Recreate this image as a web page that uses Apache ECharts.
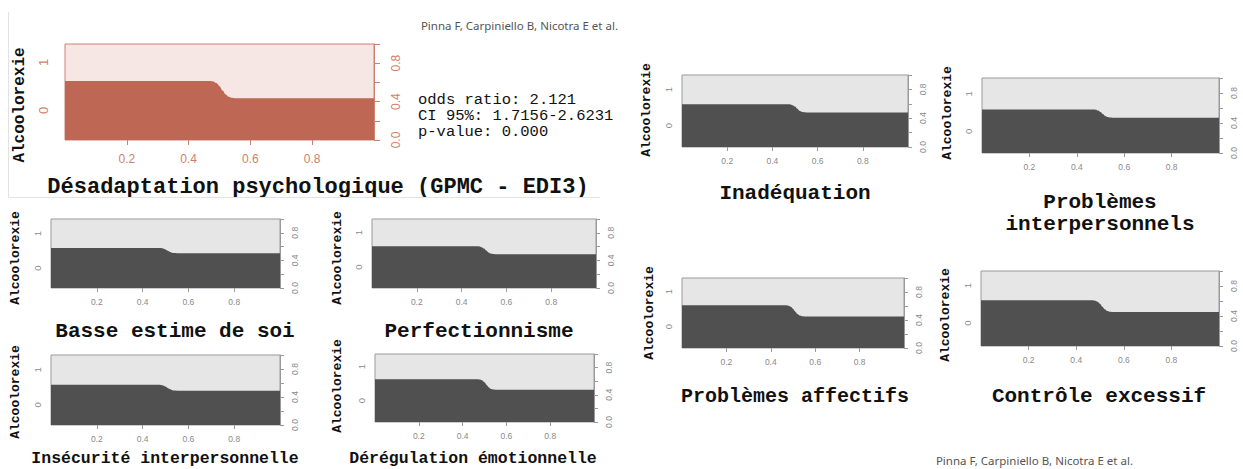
<!DOCTYPE html>
<html><head><meta charset="utf-8">
<script src="https://cdn.jsdelivr.net/npm/echarts@6/dist/echarts.min.js"></script>
<style>html,body{margin:0;padding:0;background:#fff}#c{width:1243px;height:469px}</style>
</head><body><div id="c"></div>
<script>
// x positions of the conditional-density boundary (shared by all panels)
const xValues = [0, 0.47, 0.48, 0.49, 0.50, 0.51, 0.52, 0.53, 0.54, 0.55, 1];
// P(Alcoolorexie = 0 | x)
const desadaptation   = [0.615, 0.615, 0.610, 0.593, 0.561, 0.516, 0.475, 0.450, 0.439, 0.435, 0.435];
const basseEstime     = [0.580, 0.580, 0.578, 0.571, 0.558, 0.539, 0.522, 0.511, 0.506, 0.505, 0.505];
const perfectionnisme = [0.605, 0.605, 0.602, 0.591, 0.571, 0.542, 0.515, 0.499, 0.492, 0.490, 0.490];
const insecurite      = [0.575, 0.575, 0.572, 0.565, 0.550, 0.528, 0.509, 0.498, 0.492, 0.490, 0.490];
const deregulation    = [0.630, 0.630, 0.625, 0.611, 0.584, 0.545, 0.509, 0.487, 0.478, 0.475, 0.475];
const inadequation    = [0.595, 0.595, 0.592, 0.581, 0.561, 0.532, 0.505, 0.489, 0.482, 0.480, 0.480];
const problemesInter  = [0.580, 0.580, 0.577, 0.567, 0.547, 0.520, 0.494, 0.479, 0.472, 0.470, 0.470];
const problemesAff    = [0.610, 0.610, 0.605, 0.591, 0.562, 0.522, 0.485, 0.463, 0.453, 0.450, 0.450];
const controle        = [0.610, 0.610, 0.605, 0.591, 0.564, 0.525, 0.489, 0.467, 0.458, 0.455, 0.455];

const xTickLabels = [0.2, 0.4, 0.6, 0.8];
const rightTicks = [0, 0.2, 0.4, 0.6, 0.8, 1];
const rightTickLabels = [0, 0.4, 0.8];
const classLabels = ['0', '1'];
const yName = 'Alcoolorexie';
const oddsText = ['odds ratio: 2.121', 'CI 95%: 1.7156-2.6231', 'p-value: 0.000'];
const citation = 'Pinna F, Carpiniello B, Nicotra E et al.';

const MONO = '"Nimbus Mono PS","Courier New","FreeMono","Liberation Mono",monospace';

const panels = [
  {v: desadaptation, t: ['Désadaptation psychologique (GPMC - EDI3)'], box: [65, 44, 309, 96], tx: 318, ty: 187, tf: 22, nx: 20, ny: 105, nf: 16, main: true},
  {v: basseEstime, t: ['Basse estime de soi'], box: [51, 219, 229, 69], tx: 175, ty: 331, tf: 21, nx: 15, ny: 258, nf: 13},
  {v: perfectionnisme, t: ['Perfectionnisme'], box: [372, 219, 224, 69], tx: 479, ty: 331, tf: 21, nx: 337, ny: 258, nf: 13},
  {v: insecurite, t: ['Insécurité interpersonnelle'], box: [51, 355, 229, 70], tx: 165, ty: 458, tf: 16.5, nx: 15, ny: 392, nf: 13},
  {v: deregulation, t: ['Dérégulation émotionnelle'], box: [375, 354, 219, 68], tx: 473, ty: 458, tf: 16.5, nx: 337, ny: 386, nf: 13},
  {v: inadequation, t: ['Inadéquation'], box: [682, 75, 226, 72], tx: 795, ty: 193, tf: 21, nx: 646, ny: 110, nf: 13},
  {v: problemesInter, t: ['Problèmes', 'interpersonnels'], box: [982, 78, 237, 75], tx: 1100, ty: 202, tf: 21, nx: 947, ny: 113, nf: 13},
  {v: problemesAff, t: ['Problèmes affectifs'], box: [682, 278, 222, 70], tx: 795, ty: 396, tf: 20, nx: 649, ny: 313, nf: 13},
  {v: controle, t: ['Contrôle excessif'], box: [981, 271, 238, 75], tx: 1099, ty: 396, tf: 21, nx: 945, ny: 315, nf: 13}
];

const grid = [], xAxis = [], yAxis = [], series = [], graphic = [];
panels.forEach((p, i) => {
  const m = !!p.main;
  const dark = m ? '#bd6754' : '#505050';
  const light = m ? '#f7e7e4' : '#e6e6e6';
  const line = m ? '#cf8272' : '#9a9a9a';
  const lab = m ? '#d27e6d' : '#8a8a8a';
  const fs = m ? 12 : 8.5;
  const p0 = p.v[0];
  grid.push({left: p.box[0], top: p.box[1], width: p.box[2], height: p.box[3], show: true,
    backgroundColor: light, borderColor: line, borderWidth: 1, containLabel: false});
  xAxis.push({type: 'value', gridIndex: i, min: 0, max: 1, interval: 0.2,
    axisLine: {show: false}, splitLine: {show: false},
    axisTick: {show: true, customValues: xTickLabels, length: m ? 5 : 4, lineStyle: {color: line}},
    axisLabel: {customValues: xTickLabels, color: lab, fontSize: fs, fontFamily: 'Liberation Sans', margin: m ? 13 : 9,
      formatter: v => v.toFixed(1)}});
  yAxis.push({type: 'value', gridIndex: i, min: 0, max: 1, position: 'left',
    axisLine: {show: false}, axisTick: {show: false}, splitLine: {show: false},
    axisLabel: {customValues: [p0 / 2, (1 + p0) / 2], rotate: 90, color: lab, fontSize: fs + 1,
      fontFamily: 'Liberation Sans', margin: m ? 15 : 9,
      formatter: v => (v < p0 ? classLabels[0] : classLabels[1])}});
  yAxis.push({type: 'value', gridIndex: i, min: 0, max: 1, interval: 0.2, position: 'right',
    axisLine: {show: true, lineStyle: {color: line}}, splitLine: {show: false},
    axisTick: {show: true, customValues: rightTicks, length: m ? 6 : 4, lineStyle: {color: line}},
    axisLabel: {customValues: rightTickLabels, rotate: 90, color: lab, fontSize: fs,
      fontFamily: 'Liberation Sans', margin: m ? 16 : 10, formatter: v => v.toFixed(1)}});
  series.push({type: 'line', xAxisIndex: i, yAxisIndex: 2 * i, showSymbol: false, smooth: 0.35,
    smoothMonotone: 'x', silent: true, lineStyle: {width: 0}, areaStyle: {color: dark, opacity: 1},
    data: xValues.map((x, k) => [x, p.v[k]])});
  p.t.forEach((txt, k) => graphic.push({type: 'text', x: p.tx, y: p.ty + k * 22,
    style: {text: txt, font: 'bold ' + p.tf + 'px ' + MONO, fill: '#111', align: 'center', verticalAlign: 'middle'}}));
  graphic.push({type: 'text', x: p.nx, y: p.ny, rotation: Math.PI / 2,
    style: {text: yName, font: 'bold ' + p.nf + 'px ' + MONO, fill: '#111', align: 'center', verticalAlign: 'middle'}});
});
oddsText.forEach((t, k) => graphic.push({type: 'text', x: 418, y: 100 + k * 16,
  style: {text: t, font: '15.5px ' + MONO, fill: '#111', align: 'left', verticalAlign: 'middle'}}));
graphic.push({type: 'text', x: 618, y: 25, style: {text: citation, font: '11.5px "Noto Sans"', fill: '#555', align: 'right', verticalAlign: 'middle'}});
graphic.push({type: 'text', x: 1133, y: 460, style: {text: citation, font: '11.5px "Noto Sans"', fill: '#555', align: 'right', verticalAlign: 'middle'}});
graphic.push({type: 'polyline', shape: {points: [[8.5, 12], [8.5, 197.5], [600, 197.5]]}, style: {stroke: '#e2e2e2', lineWidth: 1, fill: null}});

const chart = echarts.init(document.getElementById('c'), null, {renderer: 'svg'});
chart.setOption({animation: false, backgroundColor: '#fff', grid, xAxis, yAxis, series, graphic});
</script></body></html>
